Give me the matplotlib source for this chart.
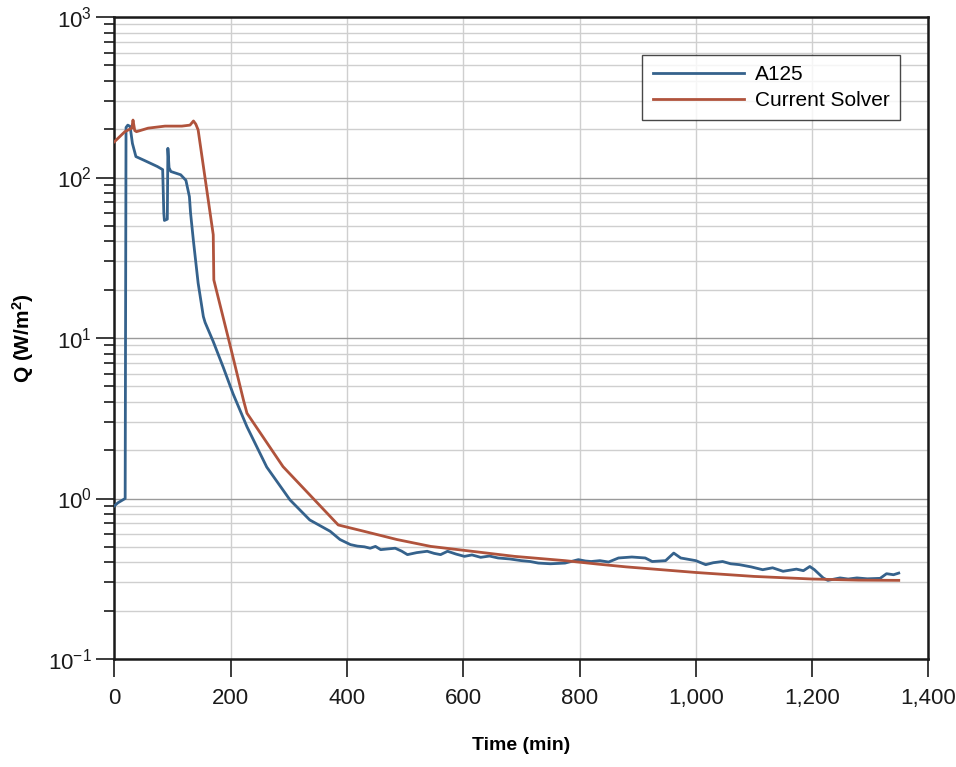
import matplotlib
matplotlib.use("Agg")
import matplotlib.pyplot as plt
from matplotlib.ticker import LogLocator, NullFormatter, FuncFormatter

plt.rcParams['font.family'] = ['Liberation Sans', 'DejaVu Sans']
plt.rcParams['mathtext.default'] = 'regular'

# A125 measured data
a125_t = [0, 6, 18.5, 20, 23, 27, 31, 37, 51, 74, 83, 85, 86, 91, 92, 94, 97, 114, 123,
          129, 131, 136, 144, 153, 156, 170, 187, 204, 228, 262, 302, 336, 371, 388,
          406, 418, 430, 440, 449, 458, 470, 483, 494, 504, 520, 538, 550, 561, 573, 588, 602, 615,
          630, 645, 660, 680, 700, 715, 729, 750, 775,
          798, 810, 820, 835, 850, 867, 890, 913, 925, 948, 962, 974, 1000, 1017, 1030, 1046, 1060, 1075,
          1095, 1115, 1132, 1150, 1173, 1185, 1196, 1204, 1219, 1227, 1248, 1262, 1277, 1295, 1317, 1328, 1340, 1349]
a125_q = [0.90, 0.94, 1.0, 205, 212, 208, 163, 135, 128, 117, 112, 60, 54, 55, 152, 115, 109, 104, 96,
          76, 60, 40, 22, 13.6, 12.5, 9.5, 6.6, 4.5, 2.8, 1.57, 0.98, 0.735, 0.625, 0.555,
          0.516, 0.505, 0.50, 0.49, 0.503, 0.48, 0.485, 0.49, 0.47, 0.447, 0.46, 0.469, 0.455, 0.447, 0.469, 0.45,
          0.436, 0.445, 0.43, 0.438, 0.426, 0.42, 0.41, 0.405, 0.396, 0.392, 0.396,
          0.416, 0.408, 0.405, 0.41, 0.402, 0.426, 0.432, 0.426, 0.405, 0.41, 0.457, 0.426, 0.41, 0.387,
          0.398, 0.405, 0.392, 0.387, 0.375, 0.36, 0.37, 0.352, 0.363, 0.355, 0.377, 0.36, 0.32, 0.309, 0.32,
          0.315, 0.32, 0.316, 0.318, 0.34, 0.335, 0.343]

# Current Solver prediction
solver_t = [0, 18, 30, 32, 35, 38, 58, 87, 116, 130, 136, 140, 144, 170, 171, 199, 222, 228,
            290, 385, 429, 486, 544, 602, 688, 775, 832, 880, 1000, 1100, 1200, 1280, 1349]
solver_q = [167, 193, 203, 228, 196, 193, 203, 209, 209, 212, 225, 215, 198, 44, 23, 9.0, 4.1, 3.4,
            1.58, 0.684, 0.625, 0.555, 0.503, 0.475, 0.436, 0.41, 0.39, 0.375, 0.346, 0.327, 0.315, 0.31, 0.309]

x_ticks = [0, 200, 400, 600, 800, 1000, 1200, 1400]

fig = plt.figure(figsize=(9.56, 7.67), dpi=100)
ax = fig.add_axes([114.4/956, 1-659/767, 814/956, 642/767])

ax.set_yscale('log')
ax.set_ylim(0.1, 1000)
ax.set_xlim(0, 1400)

ax.plot(a125_t, a125_q, color='#35628c', lw=2.0, label='A125', zorder=3)
ax.plot(solver_t, solver_q, color='#b0533c', lw=2.0, label='Current Solver', zorder=3)

ax.set_xticks(x_ticks)
ax.xaxis.set_major_formatter(FuncFormatter(lambda v, p: f"{int(v):,}"))
ax.yaxis.set_major_locator(LogLocator(base=10, numticks=10))
ax.yaxis.set_minor_locator(LogLocator(base=10, subs=range(2, 10), numticks=20))
ax.yaxis.set_minor_formatter(NullFormatter())

ax.grid(True, which='major', axis='x', color='#cfcfcf', lw=1.0, zorder=0)
ax.grid(True, which='major', axis='y', color='#9a9a9a', lw=1.0, zorder=0)
ax.grid(True, which='minor', axis='y', color='#cfcfcf', lw=1.0, zorder=0)

for s in ax.spines.values():
    s.set_linewidth(1.8)
    s.set_color('#1a1a1a')

ax.tick_params(axis='both', which='major', direction='out', length=13, width=1.2,
               labelsize=16, pad=8, colors='#1a1a1a')
ax.tick_params(axis='y', which='minor', direction='out', length=7, width=1.2, colors='#1a1a1a')
ax.tick_params(axis='y', which='major', pad=3)

ax.set_xlabel('Time (min)', fontsize=14, fontweight='bold', labelpad=20)
ax.set_ylabel('Q (W/m$^2$)', fontsize=15, fontweight='bold', labelpad=9)

leg = ax.legend(loc='upper right', bbox_to_anchor=(0.965, 0.941), fontsize=15,
                frameon=True, fancybox=False, handlelength=4.4, borderpad=0.5,
                labelspacing=0.32, handletextpad=0.5, borderaxespad=0)
leg.get_frame().set_edgecolor('#1a1a1a')
leg.get_frame().set_linewidth(1.0)

fig.savefig('out.png', dpi=100)
